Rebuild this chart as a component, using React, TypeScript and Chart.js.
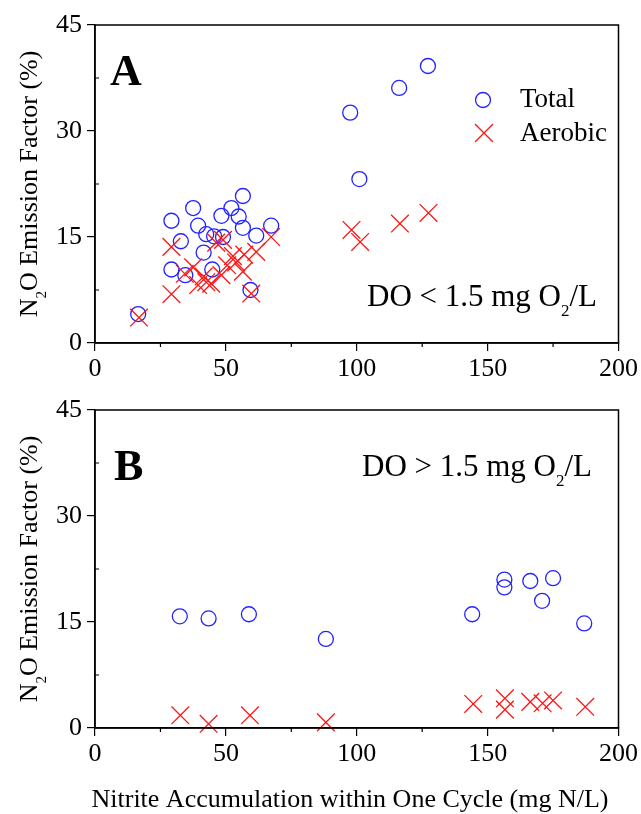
import React, { useEffect, useRef } from 'react';
import { Chart, registerables } from 'chart.js';
Chart.register(...registerables);

// ---------- Data ----------
const xTicks = [0, 50, 100, 150, 200];
const yTicks = [0, 15, 30, 45];
const xMinor = [25, 75, 125, 175];
const yMinor = [7.5, 22.5, 37.5];

const totalAX = [16.5, 29.2, 29.2, 32.8, 34.5, 37.5, 39.4, 41.5, 42.5, 44.8, 45.5, 48.3, 48.9, 52.1, 54.9, 56.5, 56.5, 59.4, 61.6, 67.3, 97.5, 101.0, 116.2, 127.2];
const totalAY = [4.1, 17.3, 10.4, 14.4, 9.6, 19.1, 16.6, 12.8, 15.4, 10.4, 15.1, 18.0, 15.0, 19.1, 17.9, 20.8, 16.3, 7.5, 15.2, 16.6, 32.6, 23.2, 36.1, 39.2];
const aerobicAX = [16.8, 29.2, 29.2, 34.3, 37.5, 39.4, 41.5, 42.5, 44.4, 46.3, 48.3, 48.9, 50.5, 52.7, 53.9, 56.5, 57.0, 59.7, 61.6, 67.3, 98.0, 101.3, 116.5, 127.4];
const aerobicAY = [3.6, 13.6, 6.9, 9.8, 10.7, 8.2, 9.4, 8.6, 8.4, 14.2, 9.6, 14.6, 11.0, 12.3, 11.4, 10.1, 12.5, 7.0, 12.9, 15.0, 16.0, 14.3, 16.9, 18.4];

const totalBX = [32.4, 43.4, 58.8, 88.2, 144.1, 156.4, 156.4, 166.3, 170.8, 175.0, 186.9];
const totalBY = [15.8, 15.5, 16.1, 12.6, 16.1, 21.0, 19.9, 20.8, 18.0, 21.2, 14.8];
const aerobicBX = [32.6, 43.4, 59.2, 88.2, 144.5, 156.6, 156.6, 166.3, 171.0, 175.0, 187.3];
const aerobicBY = [1.8, 0.6, 1.8, 0.8, 3.4, 4.2, 2.6, 3.7, 3.5, 3.9, 3.0];

const seriesNames = ['Total', 'Aerobic'];
const yTitleParts = [{ t: 'N' }, { t: '2', sub: true }, { t: 'O Emission Factor (%)' }];
const xTitle = 'Nitrite Accumulation within One Cycle (mg N/L)';
const doA = [{ t: 'DO < 1.5 mg O' }, { t: '2', sub: true }, { t: '/L' }];
const doB = [{ t: 'DO > 1.5 mg O' }, { t: '2', sub: true }, { t: '/L' }];

const BLUE = 'rgb(35,35,255)';
const RED = 'rgb(255,20,20)';
const FONT = '"Liberation Serif", "Times New Roman", serif';

const pts = (xs: number[], ys: number[]) => xs.map((x, i) => ({ x, y: ys[i] }));

type Part = { t: string; sub?: boolean };

function drawParts(ctx: CanvasRenderingContext2D, parts: Part[], x: number, y: number, size: number, align: 'left' | 'center') {
  const subSize = Math.round(size * 0.56);
  const widths = parts.map((p) => {
    ctx.font = `${p.sub ? subSize : size}px ${FONT}`;
    return ctx.measureText(p.t).width;
  });
  const total = widths.reduce((a, b) => a + b, 0);
  let cx = align === 'center' ? x - total / 2 : x;
  ctx.textBaseline = 'alphabetic';
  ctx.textAlign = 'left';
  parts.forEach((p, i) => {
    ctx.font = `${p.sub ? subSize : size}px ${FONT}`;
    ctx.fillText(p.t, cx, p.sub ? y + size * 0.33 : y);
    cx += widths[i];
  });
}

const decorPlugin = {
  id: 'decor',
  afterDraw(chart: any) {
    const o = chart.options.plugins.decor;
    const { ctx, chartArea: a, scales } = chart;
    const x = scales.x;
    const y = scales.y;
    ctx.save();
    ctx.strokeStyle = '#000';
    ctx.lineWidth = 1.5;
    ctx.strokeRect(a.left, a.top, a.right - a.left, a.bottom - a.top);
    ctx.lineWidth = 1.2;
    ctx.beginPath();
    xMinor.forEach((v) => {
      const px = x.getPixelForValue(v);
      ctx.moveTo(px, a.bottom);
      ctx.lineTo(px, a.bottom + 4);
    });
    yMinor.forEach((v) => {
      const py = y.getPixelForValue(v);
      ctx.moveTo(a.left, py);
      ctx.lineTo(a.left + 4, py);
    });
    ctx.stroke();

    ctx.fillStyle = '#000';
    // panel letter
    ctx.font = `bold 44px ${FONT}`;
    ctx.textBaseline = 'alphabetic';
    ctx.textAlign = 'left';
    ctx.fillText(o.letter, o.letterX, o.letterY);

    // DO annotation
    drawParts(ctx, o.doParts, o.doX, o.doY, 31, 'left');

    // legend
    if (o.legend) {
      ctx.strokeStyle = BLUE;
      ctx.lineWidth = 1.3;
      ctx.beginPath();
      ctx.arc(483, 100, 7.5, 0, Math.PI * 2);
      ctx.stroke();
      ctx.strokeStyle = RED;
      ctx.beginPath();
      const r = 9;
      ctx.moveTo(484 - r, 133 - r);
      ctx.lineTo(484 + r, 133 + r);
      ctx.moveTo(484 - r, 133 + r);
      ctx.lineTo(484 + r, 133 - r);
      ctx.stroke();
      ctx.fillStyle = '#000';
      ctx.font = `27px ${FONT}`;
      ctx.textBaseline = 'middle';
      ctx.fillText(seriesNames[0], 520, 100);
      ctx.fillText(seriesNames[1], 520, 134);
    }

    // y title
    ctx.save();
    ctx.translate(37, (a.top + a.bottom) / 2);
    ctx.rotate(-Math.PI / 2);
    ctx.fillStyle = '#000';
    drawParts(ctx, yTitleParts, 0, 0, 26, 'center');
    ctx.restore();

    if (o.xTitle) {
      ctx.font = `26px ${FONT}`;
      ctx.textAlign = 'center';
      ctx.textBaseline = 'middle';
      ctx.fillText(xTitle, 350, a.bottom + 72);
    }
    ctx.restore();
  },
};

function Panel({ top, height, axisH, data, decor }: any) {
  const ref = useRef<HTMLCanvasElement>(null);
  useEffect(() => {
    const chart = new Chart(ref.current!, {
      type: 'scatter',
      data: {
        datasets: [
          {
            label: seriesNames[1],
            data: data[1],
            pointStyle: 'crossRot',
            pointRadius: 12.5,
            pointBorderColor: RED,
            pointBackgroundColor: 'transparent',
            pointBorderWidth: 1.3,
            borderColor: RED,
            clip: false,
          },
          {
            label: seriesNames[0],
            data: data[0],
            pointStyle: 'circle',
            pointRadius: 7.5,
            pointBorderColor: BLUE,
            pointBackgroundColor: 'transparent',
            pointBorderWidth: 1.3,
            borderColor: BLUE,
            clip: false,
          },
        ],
      },
      options: {
        animation: false,
        responsive: false,
        maintainAspectRatio: false,
        layout: { padding: { left: 0, right: 21, top: 25, bottom: 0 } },
        plugins: {
          legend: { display: false },
          tooltip: { enabled: false },
          decor,
        } as any,
        scales: {
          x: {
            type: 'linear',
            min: 0,
            max: 200,
            afterFit: (s: any) => { s.height = axisH; },
            afterBuildTicks: (s: any) => { s.ticks = xTicks.map((v) => ({ value: v })); },
            ticks: { color: '#000', font: { family: FONT, size: 26 }, padding: 3, maxRotation: 0 },
            grid: { display: true, drawOnChartArea: false, drawTicks: true, tickLength: 8, color: '#000', lineWidth: 1.2 },
            border: { color: '#000', width: 1.5 },
          },
          y: {
            type: 'linear',
            min: 0,
            max: 45,
            afterFit: (s: any) => { s.width = 95; },
            afterBuildTicks: (s: any) => { s.ticks = yTicks.map((v) => ({ value: v })); },
            ticks: { color: '#000', font: { family: FONT, size: 26 }, padding: 5 },
            grid: { display: true, drawOnChartArea: false, drawTicks: true, tickLength: 8, color: '#000', lineWidth: 1.2 },
            border: { color: '#000', width: 1.5 },
          },
        },
      },
      plugins: [decorPlugin],
    });
    return () => chart.destroy();
  }, []);
  return (
    <canvas
      ref={ref}
      width={641}
      height={height}
      style={{ position: 'absolute', left: 0, top, width: 641, height }}
    />
  );
}

export default function App() {
  return (
    <div style={{ position: 'absolute', left: 0, top: 0, width: 641, height: 814, background: '#fff', overflow: 'hidden' }}>
      <Panel
        top={0}
        height={380}
        axisH={37}
        data={[pts(totalAX, totalAY), pts(aerobicAX, aerobicAY)]}
        decor={{ letter: 'A', letterX: 110, letterY: 85, doParts: doA, doX: 367, doY: 306, legend: true, xTitle: false }}
      />
      <Panel
        top={385}
        height={429}
        axisH={86}
        data={[pts(totalBX, totalBY), pts(aerobicBX, aerobicBY)]}
        decor={{ letter: 'B', letterX: 114, letterY: 95, doParts: doB, doX: 362, doY: 91, legend: false, xTitle: true }}
      />
    </div>
  );
}
